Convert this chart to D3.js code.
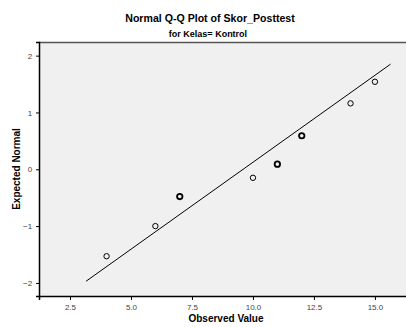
<!DOCTYPE html>
<html><head><meta charset="utf-8">
<script src="https://cdn.jsdelivr.net/npm/d3@7"></script>
<style>body{margin:0;background:#fff;}svg{display:block;font-family:"Liberation Sans",Arial,sans-serif;}</style>
</head><body>
<svg id="c" width="406" height="327"></svg>
<script>
const observed = [4, 6, 7, 10, 11, 12, 14, 15];
const expected = [-1.53, -1.0, -0.48, -0.15, 0.09, 0.59, 1.16, 1.54];
const duplicate = [false, false, true, false, true, true, false, false];
const lineX = [3.16, 15.64];
const lineY = [-1.97, 1.85];
const xTicks = [2.5, 5.0, 7.5, 10.0, 12.5, 15.0];
const yTicks = [-2, -1, 0, 1, 2];

const svg = d3.select("#c");
const L = 39, R = 413, T = 42, B = 296;
const x = d3.scaleLinear().domain([1.23, 16.56]).range([L, R]);
const y = d3.scaleLinear().domain([-2.23, 2.24]).range([B, T]);

svg.append("rect").attr("x", L).attr("y", T).attr("width", R - L).attr("height", B - T).attr("fill", "#f0f0f0");
svg.append("line").attr("x1", L).attr("x2", R).attr("y1", T + 0.5).attr("y2", T + 0.5).attr("stroke", "#555").attr("stroke-width", 1.5);

const xa = svg.append("g").attr("transform", `translate(0,${B})`)
  .call(d3.axisBottom(x).tickValues(xTicks).tickFormat(d3.format(".1f")).tickSizeOuter(0).tickSize(4));
const ya = svg.append("g").attr("transform", `translate(${L},0)`)
  .call(d3.axisLeft(y).tickValues(yTicks).tickFormat(d3.format("d")).tickSizeOuter(0).tickSize(3));
[xa, ya].forEach(a => {
  a.select(".domain").attr("stroke", "#000").attr("stroke-width", 1.5);
  a.selectAll(".tick line").attr("stroke", "#000");
  a.selectAll(".tick text").attr("font-size", 8).attr("fill", "#444").attr("font-family", "Liberation Sans, Arial, sans-serif");
});
xa.selectAll(".tick text").attr("dy", "0.9em");
ya.selectAll(".tick text").attr("dx", "-0.1em");

svg.append("line")
  .attr("x1", x(lineX[0])).attr("y1", y(lineY[0]))
  .attr("x2", x(lineX[1])).attr("y2", y(lineY[1]))
  .attr("stroke", "#000").attr("stroke-width", 1);

svg.selectAll("circle.pt").data(observed).enter().append("circle")
  .attr("class", "pt")
  .attr("cx", d => x(d)).attr("cy", (d, i) => y(expected[i]))
  .attr("r", 2.7).attr("fill", "#f0f0f0")
  .attr("stroke", "#000").attr("stroke-width", (d, i) => duplicate[i] ? 1.8 : 1);

svg.append("text").attr("x", 210).attr("y", 22).attr("text-anchor", "middle")
  .attr("font-size", 10.6).attr("font-weight", "bold").text("Normal Q-Q Plot of Skor_Posttest");
svg.append("text").attr("x", 208).attr("y", 37).attr("text-anchor", "middle")
  .attr("font-size", 9).attr("font-weight", "bold").text("for Kelas= Kontrol");
svg.append("text").attr("x", 226).attr("y", 322).attr("text-anchor", "middle")
  .attr("font-size", 10).attr("font-weight", "bold").text("Observed Value");
svg.append("text").attr("transform", "translate(20,169) rotate(-90)").attr("text-anchor", "middle")
  .attr("font-size", 10).attr("font-weight", "bold").text("Expected Normal");
</script>
</body></html>
